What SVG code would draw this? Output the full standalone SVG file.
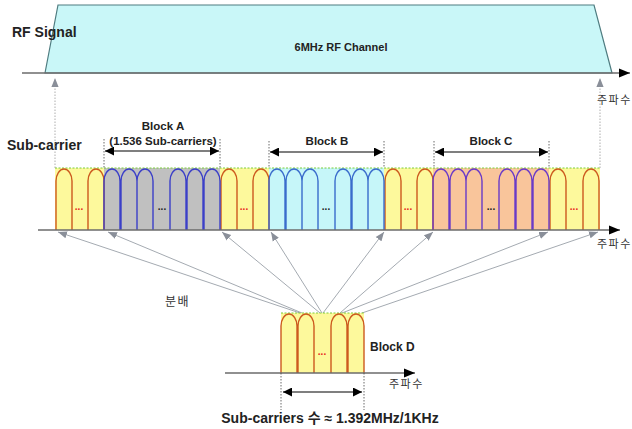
<svg xmlns="http://www.w3.org/2000/svg" width="632" height="429" viewBox="0 0 632 429">
<defs>
<marker id="ah" viewBox="0 0 10 10" refX="10" refY="5" markerWidth="9" markerHeight="9" markerUnits="userSpaceOnUse" orient="auto-start-reverse"><path d="M0,0 L10,5 L0,10 z" fill="#000"/></marker>
<marker id="ax" viewBox="0 0 10 10" refX="10" refY="5" markerWidth="11" markerHeight="11" markerUnits="userSpaceOnUse" orient="auto"><path d="M0,1 L10,5 L0,9 z" fill="#000"/></marker>
<marker id="ga" viewBox="0 0 10 10" refX="10" refY="5" markerWidth="9" markerHeight="9" markerUnits="userSpaceOnUse" orient="auto"><path d="M0,1 L10,5 L0,9 z" fill="#8a8f99"/></marker>
</defs>
<style>
text{font-family:"Liberation Sans",Arial,"Noto Sans CJK KR",sans-serif;fill:#222}
.b{font-weight:bold}
.ko{font-family:"Noto Sans CJK KR","Liberation Sans",sans-serif;font-size:11px;fill:#333;letter-spacing:1.5px}
.yel{fill:#fdf99c}
.gry{fill:#c0c0c0}
.cyn{fill:#c6f6f9}
.org{fill:#f9c59b}
.ao{fill:none;stroke:#cc5a1e;stroke-width:1.4}
.ab{fill:none;stroke:#3b3fc8;stroke-width:1.4}
.ac{fill:none;stroke:#3a6ccc;stroke-width:1.4}
.ap{fill:none;stroke:#6a3ac8;stroke-width:1.4}
.top{stroke:#7acc3a;stroke-width:1;stroke-dasharray:2,1.5;fill:none}
.vd{stroke:#444;stroke-width:0.8;stroke-dasharray:1.5,1.5;fill:none}
.gd{stroke:#999;stroke-width:0.8;stroke-dasharray:1.5,1.5;fill:none}
.axis{stroke:#6b6b6b;stroke-width:1.6;fill:none}
.conn{stroke:#9aa0a8;stroke-width:0.9;fill:none}
.dots{font-size:10px;font-weight:bold}
.rd{fill:#e8281e}
</style>

<g id="rf-signal">
<polygon points="45,73 58,5 594,5 612,73" fill="#c9f7f8" stroke="#4f7c80" stroke-width="1.2"/>
<line x1="22" y1="73" x2="630" y2="73" class="axis" marker-end="url(#ax)"/>
<text x="12" y="37" class="b" font-size="14">RF Signal</text>
<text x="341" y="51" class="b" font-size="11" text-anchor="middle">6MHz RF Channel</text>
<text x="597" y="104" class="ko">주파수</text>
</g>

<g id="subcarrier-row">
<text x="7" y="150" class="b" font-size="14">Sub-carrier</text>
<rect x="55" y="168" width="49" height="62" class="yel"/>
<rect x="104" y="168" width="116" height="62" class="gry"/>
<rect x="220" y="168" width="49" height="62" class="yel"/>
<rect x="269" y="168" width="115" height="62" class="cyn"/>
<rect x="384" y="168" width="49" height="62" class="yel"/>
<rect x="433" y="168" width="116" height="62" class="org"/>
<rect x="549" y="168" width="51" height="62" class="yel"/>
<line x1="55" y1="168" x2="600" y2="168" class="top"/>
<path class="ao" d="M56,230 V181 A8,12 0 0 1 72,181 V230 M88,230 V181 A8,12 0 0 1 104,181 V230"/>
<path class="ao" d="M221,230 V181 A8,12 0 0 1 237,181 V230 M253,230 V181 A8,12 0 0 1 269,181 V230"/>
<path class="ao" d="M385,230 V181 A8,12 0 0 1 401,181 V230 M417,230 V181 A8,12 0 0 1 433,181 V230"/>
<path class="ao" d="M550,230 V181 A8,12 0 0 1 566,181 V230 M583,230 V181 A8,12 0 0 1 599,181 V230"/>
<path class="ab" d="M104,230 V181 A8,12 0 0 1 120,181 V230 M121,230 V181 A8,12 0 0 1 137,181 V230 M137,230 V181 A8,12 0 0 1 153,181 V230 M170,230 V181 A8,12 0 0 1 186,181 V230 M187,230 V181 A8,12 0 0 1 203,181 V230 M204,230 V181 A8,12 0 0 1 220,181 V230"/>
<path class="ac" d="M269,230 V181 A8,12 0 0 1 285,181 V230 M286,230 V181 A8,12 0 0 1 302,181 V230 M302,230 V181 A8,12 0 0 1 318,181 V230 M335,230 V181 A8,12 0 0 1 351,181 V230 M352,230 V181 A8,12 0 0 1 368,181 V230 M368,230 V181 A8,12 0 0 1 384,181 V230"/>
<path class="ap" d="M433,230 V181 A8,12 0 0 1 449,181 V230 M450,230 V181 A8,12 0 0 1 466,181 V230 M466,230 V181 A8,12 0 0 1 482,181 V230 M499,230 V181 A8,12 0 0 1 515,181 V230 M516,230 V181 A8,12 0 0 1 532,181 V230 M533,230 V181 A8,12 0 0 1 549,181 V230"/>
<text x="79" y="210" class="dots rd" text-anchor="middle">...</text>
<text x="162" y="210" class="dots" text-anchor="middle">...</text>
<text x="244" y="210" class="dots rd" text-anchor="middle">...</text>
<text x="326" y="210" class="dots" text-anchor="middle">...</text>
<text x="408" y="210" class="dots rd" text-anchor="middle">...</text>
<text x="491" y="210" class="dots" text-anchor="middle">...</text>
<text x="574" y="210" class="dots rd" text-anchor="middle">...</text>
<line x1="38" y1="230" x2="620" y2="230" class="axis" marker-end="url(#ax)"/>
<text x="597" y="248" class="ko">주파수</text>
<line x1="55" y1="168" x2="55" y2="78" class="gd" marker-end="url(#ga)"/>
<line x1="600" y1="168" x2="600" y2="78" class="gd" marker-end="url(#ga)"/>
</g>

<g id="block-a">
<text x="163" y="130" class="b" font-size="11.5" text-anchor="middle">Block A</text>
<text x="163" y="145" class="b" font-size="11.5" text-anchor="middle">(1.536 Sub-carriers)</text>
<line x1="104" y1="139" x2="104" y2="168" class="vd"/>
<line x1="220" y1="139" x2="220" y2="168" class="vd"/>
<line x1="105" y1="151" x2="219" y2="151" stroke="#000" stroke-width="1.2" marker-start="url(#ah)" marker-end="url(#ah)"/>
</g>

<g id="block-b">
<text x="327" y="145" class="b" font-size="11.5" text-anchor="middle">Block B</text>
<line x1="269" y1="141" x2="269" y2="168" class="vd"/>
<line x1="384" y1="141" x2="384" y2="168" class="vd"/>
<line x1="270" y1="152" x2="383" y2="152" stroke="#000" stroke-width="1.2" marker-start="url(#ah)" marker-end="url(#ah)"/>
</g>

<g id="block-c">
<text x="491" y="145" class="b" font-size="11.5" text-anchor="middle">Block C</text>
<line x1="434" y1="141" x2="434" y2="168" class="vd"/>
<line x1="549" y1="141" x2="549" y2="168" class="vd"/>
<line x1="435" y1="152" x2="548" y2="152" stroke="#000" stroke-width="1.2" marker-start="url(#ah)" marker-end="url(#ah)"/>
</g>

<g id="connectors">
<line x1="300" y1="313" x2="58" y2="232" class="conn" marker-end="url(#ga)"/>
<line x1="302" y1="313" x2="108" y2="232" class="conn" marker-end="url(#ga)"/>
<line x1="320" y1="313" x2="222" y2="232" class="conn" marker-end="url(#ga)"/>
<line x1="322" y1="313" x2="271" y2="232" class="conn" marker-end="url(#ga)"/>
<line x1="323" y1="313" x2="384" y2="232" class="conn" marker-end="url(#ga)"/>
<line x1="340" y1="313" x2="433" y2="232" class="conn" marker-end="url(#ga)"/>
<line x1="342" y1="313" x2="548" y2="232" class="conn" marker-end="url(#ga)"/>
<line x1="362" y1="313" x2="598" y2="232" class="conn" marker-end="url(#ga)"/>
<text x="165" y="306" class="ko" style="font-size:12px">분배</text>
</g>

<g id="block-d">
<rect x="281" y="313" width="83" height="60" class="yel"/>
<line x1="281" y1="313" x2="364" y2="313" class="top"/>
<path class="ao" d="M281,373 V326 A8,12 0 0 1 297,326 V373 M298,373 V326 A8,12 0 0 1 314,326 V373 M331,373 V326 A8,12 0 0 1 347,326 V373 M348,373 V326 A8,12 0 0 1 364,326 V373"/>
<text x="322" y="355" class="dots rd" text-anchor="middle">...</text>
<line x1="225" y1="373" x2="415" y2="373" class="axis" marker-end="url(#ax)"/>
<text x="370" y="351" class="b" font-size="12">Block D</text>
<text x="389" y="388" class="ko">주파수</text>
<line x1="281" y1="373" x2="281" y2="410" class="vd"/>
<line x1="364" y1="373" x2="364" y2="410" class="vd"/>
<line x1="283" y1="392" x2="362" y2="392" stroke="#000" stroke-width="1.2" marker-start="url(#ah)" marker-end="url(#ah)"/>
<text x="330" y="423" class="b" font-size="14" text-anchor="middle">Sub-carriers 수 ≈ 1.392MHz/1KHz</text>
</g>
</svg>
